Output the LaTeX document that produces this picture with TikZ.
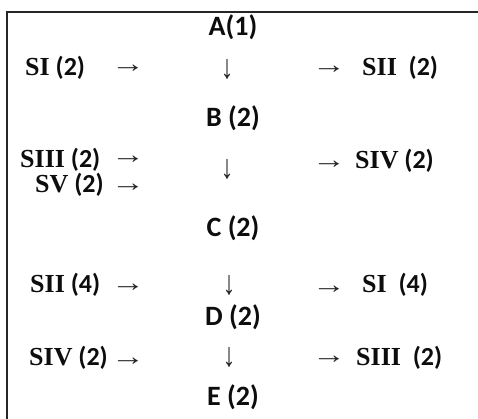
\documentclass[tikz,border=0pt]{standalone}
\usepackage{fontspec}
\usepackage{graphicx}
\newfontfamily\tnrfont{Liberation Serif}[BoldFont=* Bold]
\newfontfamily\clbfont{Carlito}[BoldFont=* Bold]
\newcommand{\sn}[2]{{\tnrfont\bfseries #1}{\clbfont\bfseries #2}}
\newcommand{\rarw}{\scalebox{1.3}[1]{→}}
\newcommand{\darw}{\scalebox{1}[1.3]{↓}}
\tikzset{
  side/.style={anchor=west, inner sep=0pt, font=\fontsize{26}{30}\selectfont, text=black!95},
  mid/.style={anchor=center, inner sep=0pt, font=\clbfont\bfseries\fontsize{28}{32}\selectfont, text=black!95},
  arr/.style={anchor=center, inner sep=0pt, text height=13.5pt, text depth=0pt,
    font=\tnrfont\fontsize{26}{28}\selectfont, text=black!85},
  frame/.style={line width=2pt, draw=black!85}
}
\begin{document}
\begin{tikzpicture}[x=1pt,y=-1pt]
\useasboundingbox (0,0) rectangle (478,419);
\draw[frame] (7,430) coordinate (fb) -- (7,12) coordinate (fc) -- (490,12) coordinate (fr);
% centre column
\node[mid] (A) at (233,27) {A(1)};
\node[mid] (B) at (233,118) {B (2)};
\node[mid] (C) at (233,228) {C (2)};
\node[mid] (D) at (233,317) {D (2)};
\node[mid] (E) at (233,397) {E (2)};
\node[arr] (dA) at (227,72) {\darw};
\node[arr] (dB) at (227,172) {\darw};
\node[arr] (dC) at (229,288) {\darw};
\node[arr] (dD) at (229,360) {\darw};
% left column
\node[side] (l1) at (25,68) {\sn{SI}{\ (2)}};
\node[side] (l2) at (20,160) {\sn{SIII}{\ (2)}};
\node[side] (l3) at (35,185) {\sn{SV}{\ (2)}};
\node[side] (l4) at (30,285) {\sn{SII}{\ (4)}};
\node[side] (l5) at (29,358) {\sn{SIV}{\ (2)}};
\node[arr] (la1) at (128,66) {\rarw};
\node[arr] (la2) at (128,157) {\rarw};
\node[arr] (la3) at (128,185) {\rarw};
\node[arr] (la4) at (128,285) {\rarw};
\node[arr] (la5) at (128,359) {\rarw};
% right column
\node[arr] (ra1) at (329,67) {\rarw};
\node[arr] (ra2) at (329,162) {\rarw};
\node[arr] (ra4) at (329,287) {\rarw};
\node[arr] (ra5) at (329,357) {\rarw};
\node[side] (r1) at (362,68) {\sn{SII}{\ \ (2)}};
\node[side] (r2) at (355,161) {\sn{SIV}{\ (2)}};
\node[side] (r4) at (362,285) {\sn{SI}{\ \ (4)}};
\node[side] (r5) at (356,358) {\sn{SIII}{\ \ (2)}};
\end{tikzpicture}
\end{document}
